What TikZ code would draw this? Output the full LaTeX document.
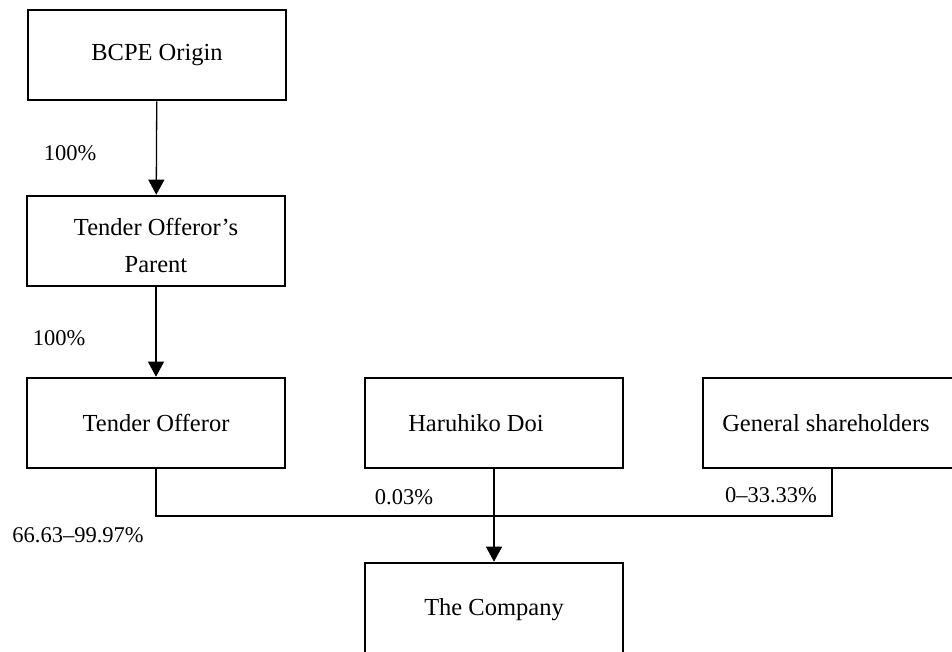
\documentclass[tikz,border=0pt]{standalone}
\usepackage{fontspec}
\setmainfont{Liberation Serif}
\usetikzlibrary{arrows.meta}
\begin{document}
\begin{tikzpicture}[x=1pt,y=-1pt,
  box/.style={draw, line width=2.6pt, minimum width=258pt, minimum height=90pt,
    inner sep=0pt, align=center, font=\fontsize{24.5}{37}\selectfont},
  pct/.style={inner sep=0pt, font=\fontsize{22.5}{27}\selectfont},
  conn/.style={line width=1.3pt},
  arr/.style={conn, -{Triangle[width=16pt,length=15pt]}}]
\useasboundingbox (0,0) rectangle (952,652);
\clip (0,0) rectangle (952,652);
\node[box] (bcpe) at (157,55) {BCPE Origin};
\node[box] (par) at (156,241) {\rule{0pt}{0pt}\\[-10pt]Tender Offeror’s\\Parent};
\node[box] (to) at (156,423) {Tender Offeror};
\node[box] (hd) at (494,423) {Haruhiko Doi\hspace*{36pt}};
\node[box] (gs) at (832,423) {General shareholders\hspace*{12pt}};
\node[box, minimum height=94pt] (co) at (494,610) {The Company};
\coordinate (j1) at (156,516);
\coordinate (j2) at (832,516);
\draw[arr] (bcpe) -- (par);
\draw[arr] (par) -- (to);
\draw[conn] (to.south) -- (j1) -- (j2) -- (gs.south);
\draw[arr] (hd) -- (co);
\node[pct] (p1) at (70,153) {100\%};
\node[pct] (p2) at (59,338) {100\%};
\node[pct] (p3) at (78,535) {66.63–99.97\%};
\node[pct] (p4) at (404,497) {0.03\%};
\node[pct] (p5) at (771,495) {0–33.33\%};
\end{tikzpicture}
\end{document}
